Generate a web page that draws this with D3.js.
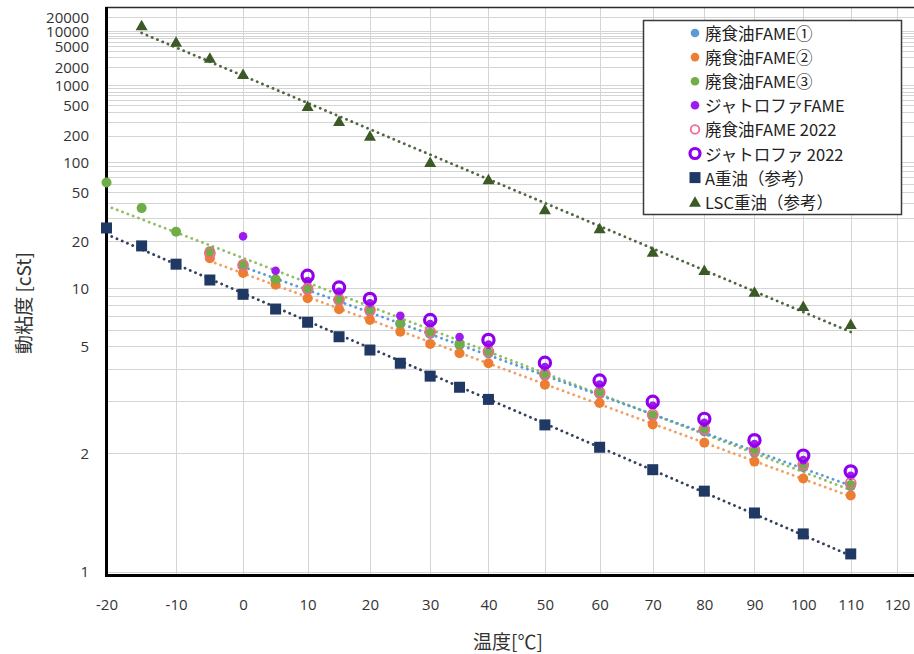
<!DOCTYPE html>
<html>
<head>
<meta charset="utf-8">
<script src="https://cdn.jsdelivr.net/npm/d3@7"></script>
<style>
  html, body { margin: 0; padding: 0; background: #fff; }
  svg { display: block; }
</style>
</head>
<body>
<svg id="chart" width="914" height="654"></svg>
<script>
// ---- data: kinematic viscosity [cSt] vs temperature [°C] ----
const fame1Temps = [0, 5, 10, 15, 20, 25, 30, 35, 40, 50, 60, 70, 80, 90, 100, 110];
const fame1Vals  = [13.6, 11.1, 9.7, 8.45, 7.4, 6.4, 5.72, 5.08, 4.65, 3.74, 3.17, 2.63, 2.34, 2.0, 1.81, 1.6];

const fame2Temps = [-5, 0, 5, 10, 15, 20, 25, 30, 35, 40, 50, 60, 70, 80, 90, 100, 110];
const fame2Vals  = [15.3, 12.3, 10.45, 8.75, 7.62, 6.7, 5.87, 5.14, 4.66, 4.22, 3.45, 2.94, 2.47, 2.15, 1.88, 1.68, 1.51];

const fame3Temps = [-20, -15, -10, -5, 0, 5, 10, 15, 20, 25, 30, 35, 40, 50, 60, 70, 80, 90, 100, 110];
const fame3Vals  = [62, 36.4, 23.6, 17.1, 14.0, 11.27, 9.84, 8.55, 7.49, 6.46, 5.78, 5.14, 4.7, 3.78, 3.2, 2.65, 2.36, 2.02, 1.82, 1.61];

const jatroTemps = [0, 5, 10, 15, 20, 25, 30, 35, 40, 50, 60, 70, 80, 90, 100, 110];
const jatroVals  = [21.8, 12.7, 11.0, 9.5, 8.2, 7.04, 6.4, 5.53, 5.1, 4.07, 3.45, 2.87, 2.5, 2.13, 1.9, 1.71];

const fame2022Temps = [-5, 0, 10, 15, 20, 30, 40, 50, 60, 70, 80, 90, 100, 110];
const fame2022Vals  = [16.6, 13.8, 9.9, 8.6, 7.55, 5.85, 4.75, 3.8, 3.22, 2.67, 2.38, 2.04, 1.84, 1.63];

const jatro2022Temps = [10, 15, 20, 30, 40, 50, 60, 70, 80, 90, 100, 110];
const jatro2022Vals  = [11.83, 10.06, 8.67, 6.7, 5.36, 4.24, 3.58, 2.97, 2.58, 2.19, 1.96, 1.76];

const aOilTemps = [-20, -15, -10, -5, 0, 5, 10, 15, 20, 25, 30, 35, 40, 50, 60, 70, 80, 90, 100, 110];
const aOilVals  = [25.2, 18.6, 14.0, 11.15, 9.2, 7.64, 6.53, 5.55, 4.82, 4.22, 3.73, 3.37, 3.03, 2.46, 2.08, 1.78, 1.55, 1.36, 1.21, 1.09];

const lscTemps = [-15, -10, -5, 0, 10, 15, 20, 30, 40, 50, 60, 70, 80, 90, 100, 110];
const lscVals  = [13200, 6010, 2970, 1535, 490, 306, 199, 99.7, 66.5, 35.6, 25.1, 16.95, 12.85, 9.52, 7.93, 6.4];

const seriesNames = ["廃食油FAME①", "廃食油FAME②", "廃食油FAME③", "ジャトロファFAME",
                     "廃食油FAME 2022", "ジャトロファ 2022", "A重油（参考）", "LSC重油（参考）"];

const xTicks = [-20, -10, 0, 10, 20, 30, 40, 50, 60, 70, 80, 90, 100, 110, 120];
const yTickLabels = [1, 2, 5, 10, 20, 50, 100, 200, 500, 1000, 2000, 5000, 10000, 20000];
const gridMantissas = [1, 2, 3, 4, 5, 6, 7, 8, 9];
const gridDecades = [1, 10, 100, 1000];
const gridExtra = [10000, 20000];

// ---- scales: ASTM D341 style (log absolute temperature vs log-log viscosity) ----
const kelvin = t => t + 273.15;
const walther = v => Math.log10(Math.log10(v + 0.7));

const svg = d3.select("#chart");
const plot = { left: 106.5, right: 920, top: 7.5, bottom: 575.5 };

const x = d3.scaleLog().domain([kelvin(-20), kelvin(120)]).range([106.5, 897]);
const y = d3.scaleLinear().domain([walther(1), walther(10)]).range([571.5, 288]);
const px = t => x(kelvin(t));
const py = v => y(walther(v));

const labelFont = "'Open Sans', 'Noto Sans', sans-serif";
const cjkFont = "'Noto Sans CJK JP', 'Noto Sans', sans-serif";

// ---- gridlines ----
const gridVals = gridDecades.flatMap(d => gridMantissas.map(m => m * d)).concat(gridExtra);
const grid = svg.append("g").attr("stroke", "#d4d4d4").attr("stroke-width", 1);
grid.selectAll("line.h").data(gridVals).join("line")
  .attr("class", "h")
  .attr("x1", plot.left).attr("x2", plot.right)
  .attr("y1", d => Math.round(py(d)) + 0.5).attr("y2", d => Math.round(py(d)) + 0.5);
grid.selectAll("line.v").data(xTicks).join("line")
  .attr("class", "v")
  .attr("y1", plot.top).attr("y2", plot.bottom)
  .attr("x1", d => Math.round(px(d)) + 0.5).attr("x2", d => Math.round(px(d)) + 0.5);

// ---- trendlines: least squares in the transformed space ----
function fitLine(temps, vals) {
  const X = temps.map(t => Math.log10(kelvin(t)));
  const Y = vals.map(walther);
  const mx = d3.mean(X), my = d3.mean(Y);
  const slope = d3.sum(X.map((xv, i) => (xv - mx) * (Y[i] - my))) / d3.sum(X.map(xv => (xv - mx) ** 2));
  const icpt = my - slope * mx;
  const [x0, x1] = d3.extent(X);
  return [[x0, icpt + slope * x0], [x1, icpt + slope * x1]];
}
const trendDefs = [
  { temps: fame3Temps, vals: fame3Vals, color: "#8fbf63" },
  { temps: fame1Temps, vals: fame1Vals, color: "#5B9BD5" },
  { temps: fame2Temps, vals: fame2Vals, color: "#F0A064" },
  { temps: aOilTemps,  vals: aOilVals,  color: "#33415c" },
  { temps: lscTemps,   vals: lscVals,   color: "#4f6640" }
];
const trendLine = d3.line().x(d => x(Math.pow(10, d[0]))).y(d => y(d[1]));
svg.append("g").selectAll("path").data(trendDefs).join("path")
  .attr("d", d => trendLine(fitLine(d.temps, d.vals)))
  .attr("fill", "none")
  .attr("stroke", d => d.color)
  .attr("stroke-width", 2.8)
  .attr("stroke-linecap", "round")
  .attr("stroke-dasharray", "0.1 5.6");

// ---- axis frame ----
svg.append("line").attr("x1", 106).attr("x2", 914).attr("y1", 7.5).attr("y2", 7.5)
  .attr("stroke", "#2a2a2a").attr("stroke-width", 1.5);
svg.append("line").attr("x1", 106.5).attr("x2", 106.5).attr("y1", 7).attr("y2", 577)
  .attr("stroke", "#000").attr("stroke-width", 3);
svg.append("line").attr("x1", 105).attr("x2", 914).attr("y1", 575.5).attr("y2", 575.5)
  .attr("stroke", "#000").attr("stroke-width", 3);

// ---- axes labels ----
const xAxis = d3.axisBottom(x)
  .tickValues(xTicks.map(kelvin))
  .tickFormat(k => String(Math.round(k - 273.15)))
  .tickSize(0);
svg.append("g").attr("transform", `translate(0,${plot.bottom})`).call(xAxis)
  .call(g => g.select(".domain").remove())
  .call(g => g.selectAll("text")
    .attr("y", 29.5).attr("dy", "0.35em")
    .attr("font-family", labelFont).attr("font-size", 15).attr("fill", "#333"));

const yAxis = d3.axisLeft(y)
  .tickValues(yTickLabels.map(walther))
  .tickFormat((d, i) => String(yTickLabels[i]))
  .tickSize(0).tickPadding(0);
svg.append("g").attr("transform", "translate(89,0)").call(yAxis)
  .call(g => g.select(".domain").remove())
  .call(g => g.selectAll("text")
    .attr("dy", "0.36em")
    .attr("font-family", labelFont).attr("font-size", 15).attr("fill", "#333"));

svg.append("text").attr("x", 508).attr("y", 640).attr("text-anchor", "middle")
  .attr("dominant-baseline", "central")
  .attr("font-family", cjkFont).attr("font-size", 19).attr("fill", "#333")
  .text("温度[℃]");
svg.append("text").attr("transform", "translate(22,303) rotate(-90)")
  .attr("text-anchor", "middle").attr("dominant-baseline", "central")
  .attr("font-family", cjkFont).attr("font-size", 19).attr("fill", "#333")
  .text("動粘度 [cSt]");

// ---- markers ----
const trianglePath = "M0,-5.5L6,5L-6,5Z";
const markerStyles = [
  { kind: "circle", r: 5,   fill: "#5B9BD5", stroke: "none", sw: 0 },
  { kind: "circle", r: 5,   fill: "#ED7D31", stroke: "none", sw: 0 },
  { kind: "circle", r: 5,   fill: "#70AD47", stroke: "none", sw: 0 },
  { kind: "circle", r: 4.3, fill: "#9F1AEF", stroke: "none", sw: 0 },
  { kind: "circle", r: 5,   fill: "none", stroke: "#EF6A8E", sw: 1.8 },
  { kind: "circle", r: 5.6, fill: "none", stroke: "#9000EE", sw: 3.2 },
  { kind: "square", s: 11,  fill: "#203864" },
  { kind: "tri",            fill: "#3B5A26" }
];
const seriesData = [
  [fame1Temps, fame1Vals], [fame2Temps, fame2Vals], [fame3Temps, fame3Vals], [jatroTemps, jatroVals],
  [fame2022Temps, fame2022Vals], [jatro2022Temps, jatro2022Vals], [aOilTemps, aOilVals], [lscTemps, lscVals]
];

function drawMarker(g, st, cx, cy) {
  if (st.kind === "circle") {
    g.append("circle").attr("cx", cx).attr("cy", cy).attr("r", st.r)
      .attr("fill", st.fill).attr("stroke", st.stroke).attr("stroke-width", st.sw);
  } else if (st.kind === "square") {
    g.append("rect").attr("x", cx - st.s / 2).attr("y", cy - st.s / 2)
      .attr("width", st.s).attr("height", st.s).attr("fill", st.fill);
  } else {
    g.append("path").attr("d", trianglePath).attr("transform", `translate(${cx},${cy})`)
      .attr("fill", st.fill);
  }
}

const marks = svg.append("g");
seriesData.forEach(([temps, vals], si) => {
  const g = marks.append("g");
  temps.forEach((t, i) => drawMarker(g, markerStyles[si], px(t), py(vals[i])));
});

// ---- legend ----
const legend = svg.append("g");
legend.append("rect").attr("x", 643.5).attr("y", 20.5).attr("width", 258).attr("height", 194)
  .attr("fill", "#fff").attr("stroke", "#3a3a3a").attr("stroke-width", 1.5);
seriesNames.forEach((name, i) => {
  const ly = 33 + i * 24.1;
  const st = markerStyles[i];
  const small = st.kind === "circle" ? Object.assign({}, st, { r: Math.min(st.r, st.sw > 2 ? 5 : 4.3) }) : st;
  drawMarker(legend, small, 695, ly);
  legend.append("text").attr("x", 705).attr("y", ly).attr("dominant-baseline", "central")
    .attr("font-family", cjkFont).attr("font-size", 16.5).attr("fill", "#222")
    .text(name);
});
</script>
</body>
</html>
